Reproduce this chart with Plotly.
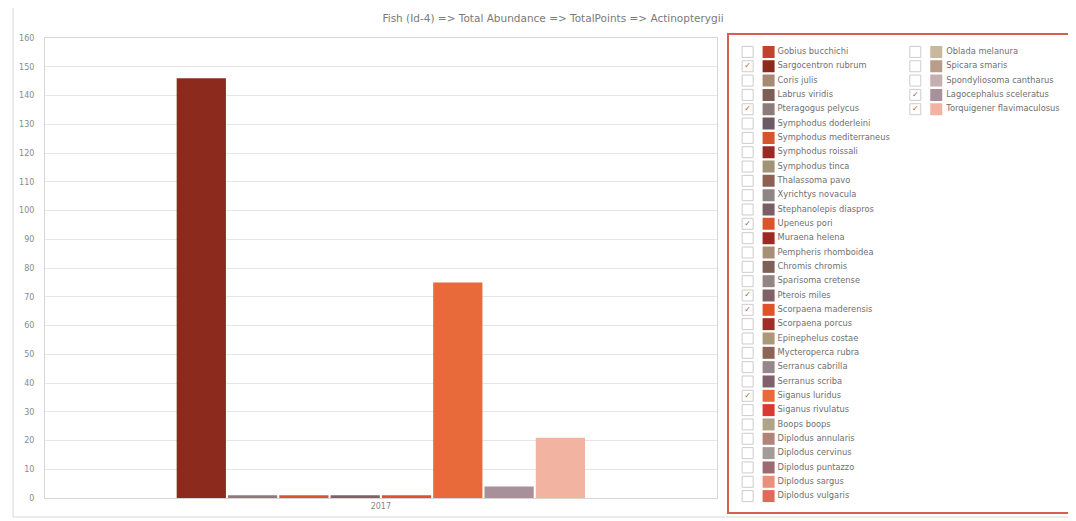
import plotly.graph_objects as go

# ---------------- data ----------------
species = [
    "Gobius bucchichi", "Sargocentron rubrum", "Coris julis", "Labrus viridis",
    "Pteragogus pelycus", "Symphodus doderleini", "Symphodus mediterraneus",
    "Symphodus roissali", "Symphodus tinca", "Thalassoma pavo", "Xyrichtys novacula",
    "Stephanolepis diaspros", "Upeneus pori", "Muraena helena", "Pempheris rhomboidea",
    "Chromis chromis", "Sparisoma cretense", "Pterois miles", "Scorpaena maderensis",
    "Scorpaena porcus", "Epinephelus costae", "Mycteroperca rubra", "Serranus cabrilla",
    "Serranus scriba", "Siganus luridus", "Siganus rivulatus", "Boops boops",
    "Diplodus annularis", "Diplodus cervinus", "Diplodus puntazzo", "Diplodus sargus",
    "Diplodus vulgaris",
    "Oblada melanura", "Spicara smaris", "Spondyliosoma cantharus",
    "Lagocephalus sceleratus", "Torquigener flavimaculosus",
]
colors = [
    "#c0432b", "#8b2a1d", "#a68a75", "#7c5e55",
    "#8c7b7a", "#6c5a64", "#d4552e",
    "#982a24", "#a09478", "#8c6052", "#8e8684",
    "#7a5e66", "#d9562b", "#9a2a22", "#a89078",
    "#7e6058", "#948486", "#7e6268", "#e0522a",
    "#a02e28", "#aa9878", "#8e6456", "#968888",
    "#80606a", "#e8693a", "#d83a30", "#b0a488",
    "#b08478", "#a49c98", "#9c6a70", "#e8907a",
    "#e06a5a",
    "#c8b89c", "#b89c8c", "#c4aeb0",
    "#a8909a", "#f2b4a0",
]
checked = [
    "Sargocentron rubrum", "Pteragogus pelycus", "Upeneus pori", "Pterois miles",
    "Scorpaena maderensis", "Siganus luridus", "Lagocephalus sceleratus",
    "Torquigener flavimaculosus",
]
category = ["2017"]
bar_values = [146, 1, 1, 1, 1, 75, 4, 21]

title_text = "Fish (Id-4) => Total Abundance => TotalPoints => Actinopterygii"

# ---------------- layout constants ----------------
ROWS_PER_COL = 32
CHECK_X = [19, 187]
SWATCH_X = [40, 208]
TEXT_X = [49, 218]
FONT = "DejaVu Sans, Liberation Sans, sans-serif"

# the page body adds an 8px offset; work in page pixels and convert
OFF = 8
W, H = 1076 - OFF, 521 - OFF
ML, MR, MT, MB = 45 - OFF, 4, 35 - OFF, 8
PW, PH = W - ML - MR, H - MT - MB


def px_x(px):
    return (px - OFF - ML) / PW


def px_y(py):
    return (H - MB - (py - OFF)) / PH


color_of = dict(zip(species, colors))

fig = go.Figure()

# bars
for name, val in zip(checked, bar_values):
    fig.add_trace(go.Bar(
        x=category, y=[val], name=name, marker_color=color_of[name],
        marker_line_width=0, showlegend=False,
        xaxis="x", yaxis="y",
    ))

# custom legend (rows/columns on an auxiliary axis)
rows = [i % ROWS_PER_COL for i in range(len(species))]
cols = [i // ROWS_PER_COL for i in range(len(species))]

fig.add_trace(go.Scatter(
    x=[CHECK_X[c] for c in cols], y=rows, mode="markers",
    marker=dict(symbol="square", size=11, color="white",
                line=dict(color="#cccccc", width=1)),
    xaxis="x2", yaxis="y2", showlegend=False, hoverinfo="skip",
))
chk_idx = [i for i, s in enumerate(species) if s in checked]
fig.add_trace(go.Scatter(
    x=[CHECK_X[cols[i]] for i in chk_idx], y=[rows[i] for i in chk_idx],
    mode="text", text=["✓"] * len(chk_idx),
    textfont=dict(size=8, color="#a8584a", family="DejaVu Sans"),
    xaxis="x2", yaxis="y2", showlegend=False, hoverinfo="skip",
))
fig.add_trace(go.Scatter(
    x=[SWATCH_X[c] for c in cols], y=rows, mode="markers",
    marker=dict(symbol="square", size=12, color=colors, line=dict(width=0)),
    xaxis="x2", yaxis="y2", showlegend=False, hoverinfo="skip",
))
fig.add_trace(go.Scatter(
    x=[TEXT_X[c] for c in cols], y=rows, mode="text", text=species,
    textposition="middle right",
    textfont=dict(size=8.3, color="#707070", family=FONT),
    xaxis="x2", yaxis="y2", showlegend=False, hoverinfo="skip",
))

fig.update_layout(
    width=W, height=H,
    margin=dict(l=ML, r=MR, t=MT, b=MB),
    paper_bgcolor="white", plot_bgcolor="white",
    font=dict(family=FONT, color="#888888", size=8),
    title=dict(text=title_text, x=(553 - OFF) / W, xanchor="center",
               y=1 - (18 - OFF) / H, yanchor="middle",
               font=dict(size=10.5, color="#7a7a7a")),
    barmode="group", bargap=0.389, bargroupgap=0.04,
    xaxis=dict(domain=[0, px_x(718)], showline=True, mirror=True,
               linecolor="#d6d6d6", linewidth=1, showgrid=False,
               tickfont=dict(size=8, color="#888888"), ticks=""),
    yaxis=dict(domain=[px_y(499), px_y(38)], range=[0, 160], dtick=10,
               showline=True, mirror=True, linecolor="#d6d6d6", linewidth=1,
               gridcolor="#e6e6e6", zeroline=False, ticks="",
               ticklabelstandoff=8,
               tickfont=dict(size=8, color="#8a8a8a")),
    xaxis2=dict(domain=[px_x(730), 1.0], range=[0, 342], visible=True,
                showticklabels=False, showgrid=False, zeroline=False,
                showline=True, mirror=True, linecolor="#d4604f", linewidth=1.5,
                ticks="", anchor="y2", fixedrange=True),
    yaxis2=dict(domain=[0, 1], range=[32.11, -1.18],
                showticklabels=False, showgrid=False, zeroline=False,
                showline=True, mirror=True, linecolor="#d4604f", linewidth=1.5,
                ticks="", anchor="x2", fixedrange=True),
    shapes=[dict(type="rect", xref="paper", yref="paper",
                 x0=px_x(13), x1=px_x(1090), y0=px_y(518), y1=px_y(7),
                 line=dict(color="#d8d8d8", width=1), layer="below")],
)

fig.write_html("out.html")
